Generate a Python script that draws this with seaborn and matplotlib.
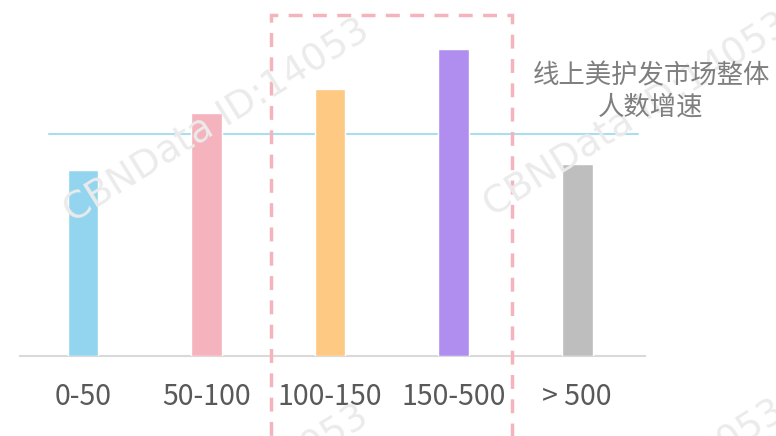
import seaborn as sns
import matplotlib.pyplot as plt
from matplotlib.patches import Rectangle

# data (relative growth, arbitrary units)
categories = ['0-50', '50-100', '100-150', '150-500', '> 500']
growth = [18.6, 24.3, 26.7, 30.7, 19.2]
overall_growth = 22.2
bar_colors = ['#93d5ef', '#f4b3bd', '#fdc983', '#b08ef0', '#bebebe']
note_text = '线上美护发市场整体\n人数增速'
watermark = 'CBNData ID:14053'

sns.set_theme(style='white')
plt.rcParams['font.family'] = ['Noto Sans CJK SC', 'DejaVu Sans']

fig = plt.figure(figsize=(7.76, 4.36), dpi=100)
ax = fig.add_axes([20 / 776, 80 / 436, 625 / 776, 341 / 436])

# faint watermarks behind everything
for (wx, wy) in [(357, 13), (777, 7), (356, 399), (772, 394)]:
    fig.text(wx / 776, 1 - wy / 436, watermark, rotation=32, rotation_mode='anchor',
             ha='right', va='top', fontsize=27, color='#ebebeb', zorder=0,
             family=['DejaVu Sans'])

sns.barplot(x=categories, y=growth, hue=categories, palette=bar_colors,
            width=0.25, legend=False, ax=ax, saturation=1, zorder=3)

# overall market growth line
ax.plot([-0.275, 4.49], [overall_growth, overall_growth], color='#a9def0', lw=1.5, zorder=2)

# dashed highlight box around the middle price bands
box = Rectangle((1.522, -12), 3.474 - 1.522, 34.1 + 12, fill=False, edgecolor='#f4b3bd',
                lw=2.5, linestyle=(0, (4, 3)), clip_on=False, zorder=4)
ax.add_patch(box)

ax.set_xlim(-0.51, 4.55)
ax.set_ylim(0, 34.1)
ax.set_yticks([])
ax.set_xlabel('')
ax.set_ylabel('')
for s in ['top', 'right', 'left']:
    ax.spines[s].set_visible(False)
ax.spines['bottom'].set_color('#d9d9d9')
ax.spines['bottom'].set_linewidth(1.5)
ax.tick_params(axis='x', length=0, pad=19, labelsize=20.5, labelcolor='#595959')
ax.patch.set_alpha(0)

fig.text(651 / 776, 1 - 91 / 436, note_text, ha='center', va='center',
         fontsize=19, color='#7f7f7f', linespacing=1.2)

fig.savefig('out.png', dpi=100)
